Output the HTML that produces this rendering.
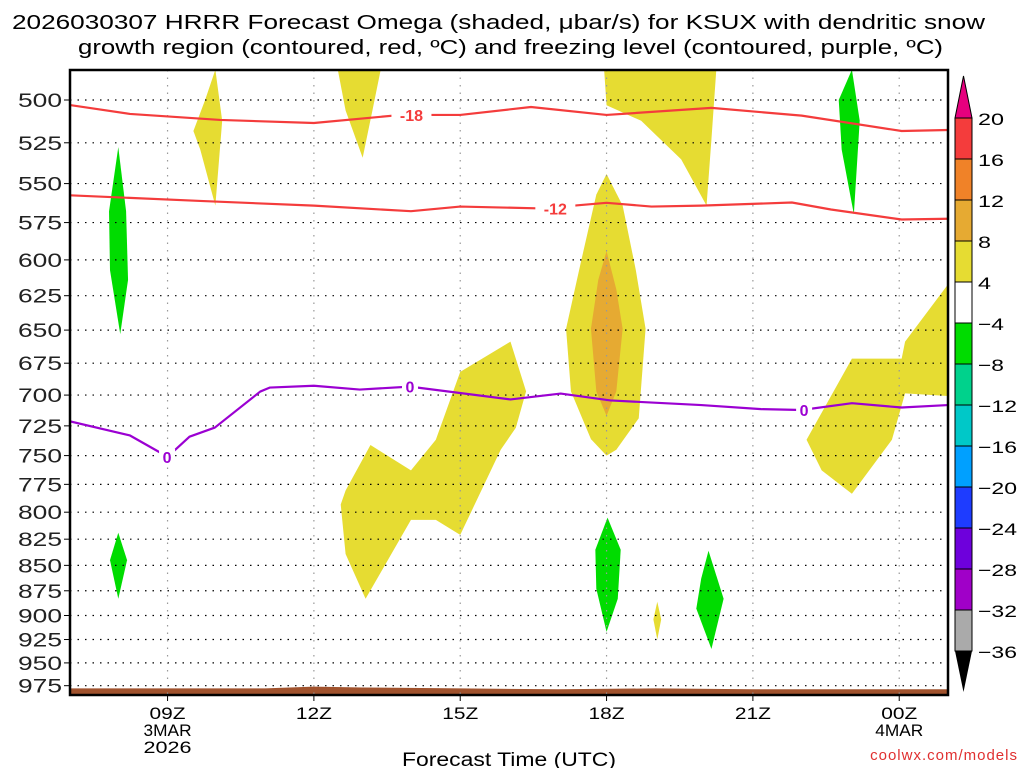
<!DOCTYPE html>
<html><head><meta charset="utf-8">
<style>
body{margin:0;background:#fff;}
svg{display:block;font-family:"Liberation Sans","DejaVu Sans",sans-serif;}
</style></head>
<body>
<svg id="chart" width="1024" height="768" viewBox="0 0 1024 768">
<text x="12" y="29" font-size="20" textLength="973" lengthAdjust="spacingAndGlyphs">2026030307 HRRR Forecast Omega (shaded, μbar/s) for KSUX with dendritic snow</text>
<text x="78" y="54" font-size="20" textLength="865" lengthAdjust="spacingAndGlyphs">growth region (contoured, red, ºC) and freezing level (contoured, purple, ºC)</text>
<g id="plot"></g>
<g id="cbar"></g>
<text x="402" y="766" font-size="19" textLength="214" lengthAdjust="spacingAndGlyphs">Forecast Time (UTC)</text>
<text x="1018" y="760" font-size="15" fill="#e03030" text-anchor="end" letter-spacing="1">coolwx.com/models</text>
</svg>
<script>
const pressureTicks=[500,525,550,575,600,625,650,675,700,725,750,775,800,825,850,875,900,925,950,975];
const timeTicks=[9,12,15,18,21,24];
const timeLabels=[["09Z","3MAR","2026"],["12Z"],["15Z"],["18Z"],["21Z"],["00Z","4MAR"]];
const cbarLevels=[20,16,12,8,4,-4,-8,-12,-16,-20,-24,-28,-32,-36];
const cbarColors=["#f43c3c","#f08228","#e6aa32","#e6dc32","#ffffff","#00dc00","#00d28c","#00c8c8","#00a0ff","#1e3cff","#6e00dc","#a000c8","#aaaaaa"];
const redHours=[7,8.23,10.08,12,13.78,15,16.45,18,20.15,22,24.05,25];
const redP18=[502.9,508,511.5,513.3,508.6,508.6,504,508.6,504.5,509,518,517.4];
const red12Hours=[7,9.67,12,13.99,15,16.66,18,18.92,19.94,21.8,22.6,24.05,25];
const redP12=[557.4,561,564,567.6,564.6,565.8,562.2,564.6,564,562,566.5,573,572.5];
const frzHours=[7,8.23,9,9.45,9.97,10.9,11.1,12,12.94,13.97,16.03,17.06,18.08,19.94,21.17,22,23.03,24.05,25];
const frzP=[721.3,733,751,734,726.4,697.2,694,692.6,695.6,693.3,703.5,698.8,704.3,708,711.3,712,706.5,710,708];
const yellowShapes=[
 [[9.53,518],[9.77,500],[9.98,483],[10.12,512],[9.98,564],[9.67,529]],
 [[12.49,483],[13.37,483],[13.2,506],[13,534],[12.65,506]],
 [[17.95,483],[20.25,483],[20.15,523],[20.05,564],[19.53,535],[18.71,512],[18,503]],
 [[18,544],[18.33,564],[18.6,607],[18.8,649],[18.66,718.7],[18.2,745],[18,750],[17.68,736],[17.27,697],[17.17,649],[17.48,600.6],[17.79,557]],
 [[12.65,780.5],[13.16,741],[13.99,762.8],[14.5,736.6],[15,681.7],[16.03,658.6],[16.35,697],[16.14,726.6],[15.83,745],[15,821],[14.5,807],[13.99,807],[13.47,848.7],[13.06,883],[12.65,839],[12.55,793]],
 [[22.1,736.6],[23.03,671.5],[24.05,671.5],[24.12,658.6],[25,617],[25,700.7],[24.12,698.6],[23.85,736.6],[23.03,783.4],[22.41,762.8]],
 [[19.04,886],[19.12,904],[19.04,925],[18.96,904]]
];
const orangeShapes=[
 [[18,594],[18.2,620.5],[18.33,649],[18.2,697],[18,716.7],[17.79,697],[17.68,649],[17.83,613.8]]
];
const greenShapes=[
 [[7.99,527.6],[8.15,567.7],[8.19,613.8],[8.03,653],[7.82,607],[7.8,567.7]],
 [[7.99,819],[8.17,845],[7.99,883],[7.82,845]],
 [[18.02,805],[18.29,835],[18.23,883],[18,917],[17.79,873],[17.77,835]],
 [[20.09,836],[20.4,883],[20.15,935],[19.84,893],[19.94,863]],
 [[23.03,483],[23.19,512],[23.07,569.6],[22.82,529],[22.76,500]]
];
const groundHours=[7,11,11.5,12,13,15,17,19,21,25];
const groundP=[978,978,977,976,977,978,979,978,979,979];

const X0=70,X1=948,Y0=70,Y1=695;
const xs=h=>X0+(h-7)*(X1-X0)/18;
const ys=p=>100+877*Math.log(p/500);
const NS="http://www.w3.org/2000/svg";
function mk(t,parent,attrs){const e=document.createElementNS(NS,t);for(const k in attrs)e.setAttribute(k,attrs[k]);parent.appendChild(e);return e;}
const plot=document.getElementById('plot');
const cl=mk('clipPath',plot,{id:'clip'});mk('rect',cl,{x:X0,y:Y0,width:X1-X0,height:Y1-Y0});
const g=mk('g',plot,{'clip-path':'url(#clip)'});
function poly(pts,fill,name){const e=mk('polygon',g,{points:pts.map(q=>xs(q[0])+','+ys(q[1])).join(' '),fill:fill});

}
yellowShapes.forEach((s,i)=>poly(s,'#e6dc32','omega-yellow-'+i));
orangeShapes.forEach((s,i)=>poly(s,'#e6aa32','omega-orange-'+i));
greenShapes.forEach((s,i)=>poly(s,'#00dc00','omega-green-'+i));
{let d='M'+xs(groundHours[0])+','+Y1;groundHours.forEach((h,i)=>d+=' L'+xs(h)+','+ys(groundP[i]));d+=' L'+xs(groundHours[groundHours.length-1])+','+Y1+' Z';
const e=mk('path',g,{d:d,fill:'#a0522d'});

}
pressureTicks.forEach(p=>{const e=mk('line',g,{x1:X0,x2:X1,y1:ys(p),y2:ys(p),stroke:'#000','stroke-width':1.2,'stroke-dasharray':'1.5 6'});

});
timeTicks.forEach(h=>{const e=mk('line',g,{x1:xs(h),x2:xs(h),y1:Y0,y2:Y1,stroke:'#999','stroke-width':1.2,'stroke-dasharray':'1.5 6'});

});
function line(hs,ps,col,name){const e=mk('polyline',g,{points:hs.map((h,i)=>xs(h)+','+ys(ps[i])).join(' '),fill:'none',stroke:col,'stroke-width':2.2,'stroke-linejoin':'round'});

}
line(redHours,redP18,'#f43c3c','contour-minus18');
line(red12Hours,redP12,'#f43c3c','contour-minus12');
line(frzHours,frzP,'#9b00d2','freezing-level-contour');
function lab(h,p,t,col){const x=xs(h),y=ys(p);mk('rect',g,{x:x-t.length*6-2,y:y-8,width:t.length*12+4,height:16,fill:'#fff'});
const e=mk('text',g,{x:x,y:y+6,'font-size':16,'font-weight':'bold',fill:col,'text-anchor':'middle'});e.textContent=t;

}
lab(14,508.6,'-18','#f43c3c');lab(16.95,565.8,'-12','#f43c3c');
lab(8.99,751,'0','#9b00d2');lab(13.97,693.3,'0','#9b00d2');lab(22.05,712,'0','#9b00d2');
mk('rect',plot,{x:X0,y:Y0,width:X1-X0,height:Y1-Y0,fill:'none',stroke:'#000','stroke-width':2.5});
pressureTicks.forEach(p=>{mk('line',plot,{x1:X0-6,x2:X0,y1:ys(p),y2:ys(p),stroke:'#000'});
const t=mk('text',plot,{x:X0-8,y:ys(p)+7,'font-size':19,'text-anchor':'end',fill:'#222',textLength:44,lengthAdjust:'spacingAndGlyphs'});t.textContent=p;

});
timeTicks.forEach((h,i)=>{mk('line',plot,{x1:xs(h),x2:xs(h),y1:Y1,y2:Y1+6,stroke:'#000'});
timeLabels[i].forEach((s,j)=>{const t=mk('text',plot,{x:xs(h),y:Y1+24+j*17,'font-size':17,'text-anchor':'middle',textLength:s.length*12,lengthAdjust:'spacingAndGlyphs'});t.textContent=s;

});});
const cb=document.getElementById('cbar');const cx=955,cw=17,ctop=118,cstep=41;
mk('polygon',cb,{points:`${cx},${ctop} ${cx+cw},${ctop} ${cx+cw/2},76`,fill:'#e6007e',stroke:'#000'});
cbarColors.forEach((c,i)=>{const e=mk('rect',cb,{x:cx,y:ctop+i*cstep,width:cw,height:cstep,fill:c,stroke:'#000','stroke-width':1});

});
const cbot=ctop+cbarColors.length*cstep;
mk('polygon',cb,{points:`${cx},${cbot} ${cx+cw},${cbot} ${cx+cw/2},692`,fill:'#000'});
cbarLevels.forEach((v,i)=>{const s=v<0?'−'+(-v):String(v);const t=mk('text',cb,{x:cx+cw+6,y:ctop+i*cstep+7,'font-size':17,textLength:s.length*13,lengthAdjust:'spacingAndGlyphs'});t.textContent=s;

});
</script>
</body></html>
